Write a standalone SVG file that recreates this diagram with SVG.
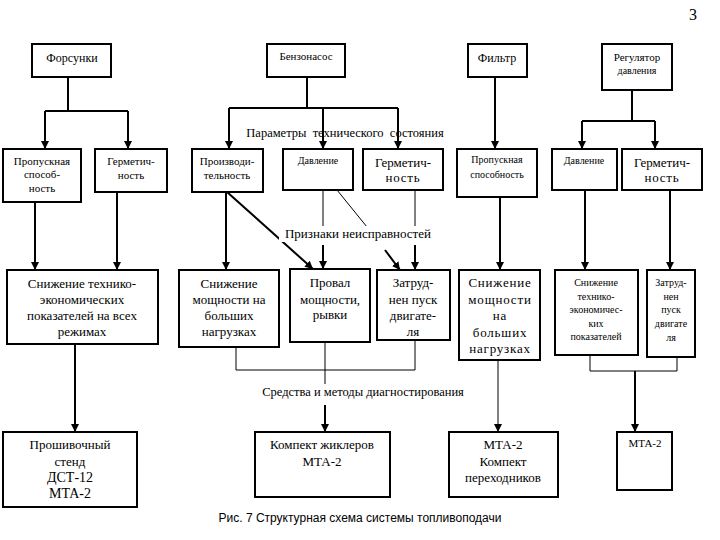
<svg xmlns="http://www.w3.org/2000/svg" width="720" height="540" viewBox="0 0 720 540" font-family="Liberation Serif, Times New Roman, serif">
<style>
.b{fill:#fff;stroke:#000;stroke-width:2}
text{font-family:'Liberation Serif','Times New Roman',serif;fill:#000;text-anchor:middle}
.f10{font-size:10px}.f11{font-size:11px}.f12{font-size:12px}.f13{font-size:13px}
.c{fill:none;stroke:#000;stroke-width:2}
.t{fill:none;stroke:#000;stroke-width:1}
.a{marker-end:url(#ah)}
.sp{letter-spacing:0.8px}
.cap{font-family:'Liberation Sans',Arial,sans-serif;font-size:12px}
</style>
<defs>
<marker id="ah" markerUnits="userSpaceOnUse" markerWidth="8" markerHeight="8" refX="8" refY="4" orient="auto">
<path d="M0,0 L8,4 L0,8 z" fill="#000"/>
</marker>
</defs>
<rect width="720" height="540" fill="#fff"/>
<text x="693" y="20" style="font-size:16px">3</text>

<g id="connectors">
<path class="c" d="M68,77 V111 M45,111 H128"/>
<path class="c a" d="M45,111 V149"/>
<path class="c a" d="M128,111 V149"/>
<path class="c" d="M307,77 V108 M229,108 H398"/>
<path class="c a" d="M229,108 V149"/>
<path class="c a" d="M323,108 V149"/>
<path class="c a" d="M398,108 V149"/>
<path class="c a" d="M495,77 V149"/>
<path class="c" d="M632,90 V121 M582,121 H655"/>
<path class="c a" d="M582,121 V149"/>
<path class="c a" d="M655,121 V149"/>
<path class="c a" d="M35,202 V270"/>
<path class="c a" d="M117,192 V270"/>
<path class="c a" d="M226,192 V270"/>
<path class="c a" d="M227,192 L313,269"/>
<path class="t" d="M323,190 V227"/>
<path class="c a" d="M323,245 V269"/>
<path class="t" d="M337,190 L367,227"/>
<path class="c a" d="M385,250 L400,270"/>
<path class="t" d="M415,190 V227"/>
<path class="c a" d="M415,245 V270"/>
<path class="c a" d="M500,197 V270"/>
<path class="c a" d="M585,190 V270"/>
<path class="c a" d="M670,190 V270"/>
<path class="c a" d="M75,344 V432"/>
<path class="t" d="M236,347 V370 H415 V340 M325,342 V384"/>
<path class="c a" d="M325,405 V432"/>
<path class="t a" d="M498,360 V432"/>
<path class="t" d="M590,355 V371 H677 V357"/>
<path class="c a" d="M635,371 V432"/>
</g>

<g id="label-params">
<text x="345" y="137" style="font-size:12.5px" xml:space="preserve">Параметры  технического  состояния</text>
</g>
<g id="label-signs">
<rect x="279" y="226" width="158" height="16" fill="#fff"/>
<text x="358" y="238" style="font-size:13px">Признаки неисправностей</text>
</g>
<g id="label-means">
<rect x="249" y="384" width="229" height="17" fill="#fff"/>
<text x="363" y="396" style="font-size:12.5px">Средства и методы диагностирования</text>
</g>

<g id="forsunki"><rect class="b" x="32" y="44" width="79" height="33"/><text class="f12" x="72" y="62">Форсунки</text></g>
<g id="benzonasos"><rect class="b" x="267" y="44" width="78" height="33"/><text class="f11" x="306" y="60">Бензонасос</text></g>
<g id="filtr"><rect class="b" x="468" y="44" width="59" height="33"/><text class="f12" x="497" y="62">Фильтр</text></g>
<g id="regulator"><rect class="b" x="602" y="44" width="70" height="46"/><text class="f11" x="637" y="61">Регулятор</text><text class="f10" x="637" y="74">давления</text></g>

<g id="p-propusk1"><rect class="b" x="3" y="149" width="78" height="53"/><text class="f11" x="42" y="165">Пропускная</text><text class="f11" x="42" y="178">способ-</text><text class="f11" x="42" y="192">ность</text></g>
<g id="p-germ1"><rect class="b" x="95" y="149" width="72" height="43"/><text class="f11" x="131" y="165">Герметич-</text><text class="f11" x="131" y="179">ность</text></g>
<g id="p-proizv"><rect class="b" x="192" y="149" width="71" height="43"/><text class="f11" x="227" y="165">Производи-</text><text class="f11" x="227" y="179">тельность</text></g>
<g id="p-davl1"><rect class="b" x="283" y="149" width="70" height="41"/><text class="f10" x="318" y="164">Давление</text></g>
<g id="p-germ2"><rect class="b" x="363" y="149" width="80" height="41"/><text class="f13" x="403" y="167">Герметич-</text><text class="f13 sp" x="403" y="182">ность</text></g>
<g id="p-propusk2"><rect class="b" x="457" y="149" width="80" height="48"/><text class="f10" x="497" y="163">Пропускная</text><text class="f10" x="497" y="178">способность</text></g>
<g id="p-davl2"><rect class="b" x="552" y="149" width="65" height="41"/><text class="f10" x="584" y="164">Давление</text></g>
<g id="p-germ3"><rect class="b" x="622" y="149" width="80" height="41"/><text class="f13" x="662" y="167">Герметич-</text><text class="f13 sp" x="662" y="182">ность</text></g>

<g id="s-snizh-tech"><rect class="b" x="7" y="270" width="151" height="74"/><text class="f13" x="82" y="288">Снижение технико-</text><text class="f13" x="82" y="304">экономических</text><text class="f13" x="82" y="320">показателей на всех</text><text class="f13" x="82" y="336">режимах</text></g>
<g id="s-snizh-mosch1"><rect class="b" x="179" y="270" width="100" height="77"/><text class="f13" x="229" y="288">Снижение</text><text class="f13" x="229" y="304">мощности на</text><text class="f13" x="229" y="320">больших</text><text class="f13" x="229" y="336">нагрузках</text></g>
<g id="s-proval"><rect class="b" x="290" y="269" width="80" height="73"/><text class="f13" x="330" y="287">Провал</text><text class="f13" x="330" y="304">мощности,</text><text class="f13" x="330" y="319">рывки</text></g>
<g id="s-zatrud1"><rect class="b" x="377" y="270" width="73" height="70"/><text class="f13" x="413" y="287">Затруд-</text><text class="f13" x="413" y="304">нен пуск</text><text class="f13" x="413" y="320">двигате-</text><text class="f13" x="413" y="336">ля</text></g>
<g id="s-snizh-mosch2"><rect class="b" x="459" y="270" width="81" height="90"/><text class="f13 sp" x="500" y="287">Снижение</text><text class="f13 sp" x="500" y="304">мощности</text><text class="f13 sp" x="500" y="320">на</text><text class="f13 sp" x="500" y="337">больших</text><text class="f13 sp" x="500" y="353">нагрузках</text></g>
<g id="s-snizh-tech2"><rect class="b" x="555" y="270" width="83" height="85"/><text class="f10" x="596" y="286">Снижение</text><text class="f10" x="596" y="300">технико-</text><text class="f10" x="596" y="313">экономичес-</text><text class="f10" x="596" y="327">ких</text><text class="f10" x="596" y="340">показателей</text></g>
<g id="s-zatrud2"><rect class="b" x="647" y="270" width="48" height="87"/><text class="f10" x="671" y="286">Затруд-</text><text class="f10" x="671" y="300">нен</text><text class="f10" x="671" y="313">пуск</text><text class="f10" x="671" y="327">двигате</text><text class="f10" x="671" y="341">ля</text></g>

<g id="m-stend"><rect class="b" x="3" y="432" width="134" height="75"/><text class="f13" x="70" y="449">Прошивочный</text><text class="f13" x="70" y="466">стенд</text><text x="70" y="482" style="font-size:14px">ДСТ-12</text><text x="70" y="498" style="font-size:14px">МТА-2</text></g>
<g id="m-zhikler"><rect class="b" x="255" y="432" width="135" height="65"/><text class="f13" x="322" y="449">Компект жиклеров</text><text class="f13" x="322" y="466">МТА-2</text></g>
<g id="m-perehod"><rect class="b" x="449" y="432" width="109" height="65"/><text class="f13" x="503" y="449">МТА-2</text><text class="f13" x="503" y="466">Компект</text><text class="f13" x="503" y="482">переходников</text></g>
<g id="m-mta"><rect class="b" x="617" y="432" width="55" height="58"/><text class="f11" x="645" y="447">МТА-2</text></g>

<text class="cap" x="360" y="522">Рис. 7 Структурная схема системы топливоподачи</text>
</svg>
